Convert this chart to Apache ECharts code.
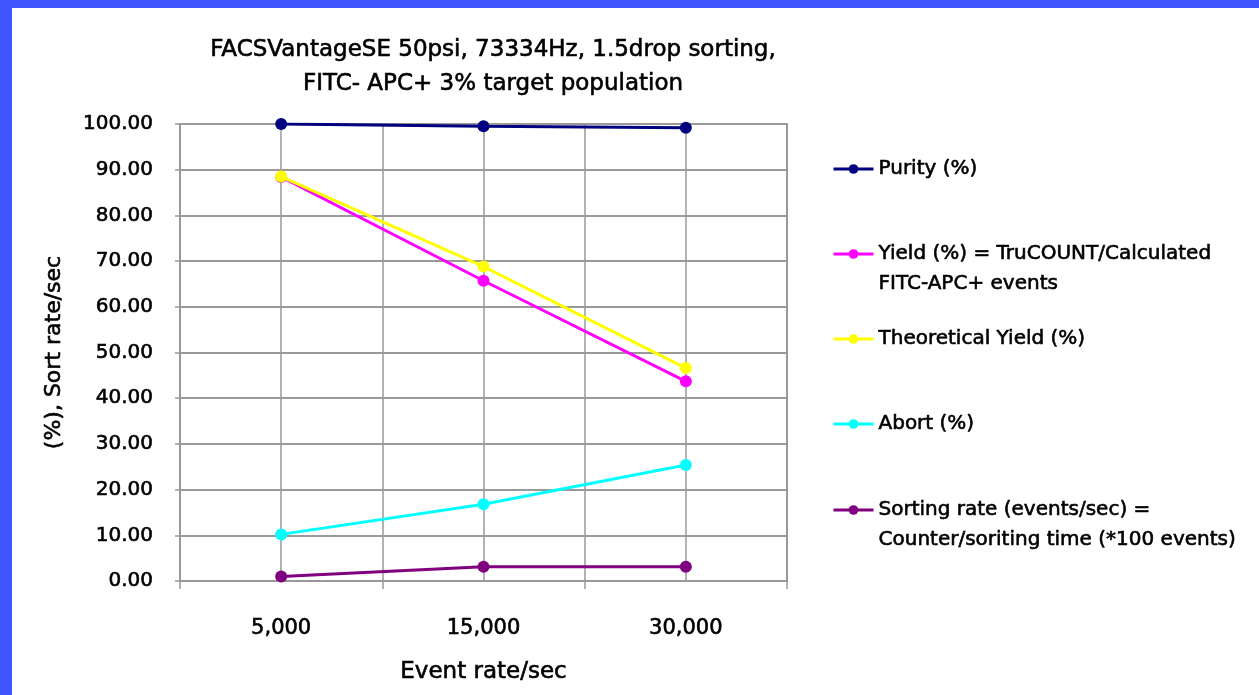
<!DOCTYPE html>
<html>
<head>
<meta charset="utf-8">
<script src="https://cdn.jsdelivr.net/npm/echarts@6/dist/echarts.min.js"></script>
<style>
  html, body { margin: 0; padding: 0; background: #ffffff; }
  #chart { width: 1259px; height: 695px; }
</style>
</head>
<body>
<div id="chart"></div>
<script>
const categories = ['5,000', '15,000', '30,000'];
const purity = [100.0, 99.5, 99.2];
const yieldPct = [88.4, 65.7, 43.7];
const theoreticalYield = [88.5, 68.8, 46.6];
const abortPct = [10.2, 16.8, 25.4];
const sortingRate = [1.0, 3.1, 3.1];
const yTicks = [0, 10, 20, 30, 40, 50, 60, 70, 80, 90, 100];

const seriesNames = [
  'Purity (%)',
  'Yield (%) = TruCOUNT/Calculated\nFITC-APC+ events',
  'Theoretical Yield (%)',
  'Abort (%)',
  'Sorting rate (events/sec) =\nCounter/soriting time (*100 events)'
];
const seriesColors = ['#000080', '#FF00FF', '#FFFF00', '#00FFFF', '#800080'];
const seriesData = [purity, yieldPct, theoreticalYield, abortPct, sortingRate];

const FONT = '"DejaVu Sans", sans-serif';
const BOLDEN = { textBorderColor: '#000', textBorderWidth: 0.6 };
const chart = echarts.init(document.getElementById('chart'), null, { renderer: 'canvas' });

const legendTops = [149, 204, 319, 404, 460];
const legends = seriesNames.map((n, i) => ({
  orient: 'vertical',
  left: 827,
  top: legendTops[i],
  data: [n],
  itemWidth: 40,
  itemHeight: 12,
  selectedMode: false,
  lineStyle: { width: 3 },
  formatter: name => (name.indexOf('\n') >= 0 ? '\n' + name : name),
  textStyle: Object.assign({
    fontFamily: FONT,
    fontSize: 20,
    color: '#000',
    lineHeight: 30
  }, BOLDEN)
}));

chart.setOption({
  backgroundColor: '#ffffff',
  animation: false,
  graphic: [
    { type: 'rect', shape: { x: 0, y: 0, width: 1259, height: 8 }, style: { fill: '#4055FF' }, z: 100 },
    { type: 'rect', shape: { x: 0, y: 0, width: 12, height: 695 }, style: { fill: '#4055FF' }, z: 100 }
  ],
  title: [{
    text: 'FACSVantageSE 50psi, 73334Hz, 1.5drop sorting,\nFITC- APC+ 3% target population',
    left: 488,
    top: 28,
    textAlign: 'center',
    textStyle: Object.assign({ fontFamily: FONT, fontSize: 23, fontWeight: 'normal', color: '#000', lineHeight: 34 }, BOLDEN)
  }],
  legend: legends,
  grid: {
    left: 180, right: 472, top: 124, bottom: 114,
    show: true, borderColor: '#999', borderWidth: 2, backgroundColor: '#fff'
  },
  xAxis: [{
    type: 'category',
    data: categories,
    boundaryGap: true,
    name: 'Event rate/sec',
    nameLocation: 'middle',
    nameGap: 80,
    nameTextStyle: Object.assign({ fontFamily: FONT, fontSize: 23, color: '#000' }, BOLDEN),
    axisLine: { lineStyle: { color: '#999', width: 2 } },
    axisTick: { show: true, length: 8, lineStyle: { color: '#999', width: 1.5 } },
    axisLabel: Object.assign({ fontFamily: FONT, fontSize: 21, color: '#000', margin: 37 }, BOLDEN),
    splitLine: { show: false }
  }, {
    type: 'value',
    min: 0, max: 6, interval: 1,
    position: 'top',
    axisLine: { show: false },
    axisTick: { show: false },
    axisLabel: { show: false },
    splitLine: { show: true, lineStyle: { color: '#999', width: 1.5 } }
  }],
  yAxis: {
    type: 'value',
    min: yTicks[0], max: yTicks[yTicks.length - 1], interval: 10,
    name: '(%), Sort rate/sec',
    nameLocation: 'middle',
    nameRotate: 90,
    nameGap: 115,
    nameTextStyle: Object.assign({ fontFamily: FONT, fontSize: 22, color: '#000' }, BOLDEN),
    axisLine: { show: true, lineStyle: { color: '#999', width: 2 } },
    axisTick: { show: true, length: 5, lineStyle: { color: '#999', width: 1.5 } },
    axisLabel: Object.assign({ fontFamily: FONT, fontSize: 20, color: '#000', margin: 27, formatter: v => v.toFixed(2) }, BOLDEN),
    splitLine: { show: true, lineStyle: { color: '#999', width: 2 } }
  },
  series: seriesNames.map((n, i) => ({
    name: n,
    type: 'line',
    xAxisIndex: 0,
    data: seriesData[i],
    symbol: 'circle',
    symbolSize: 12,
    itemStyle: { color: seriesColors[i] },
    lineStyle: { color: seriesColors[i], width: 3 },
    z: 2 + i
  }))
});
</script>
</body>
</html>
